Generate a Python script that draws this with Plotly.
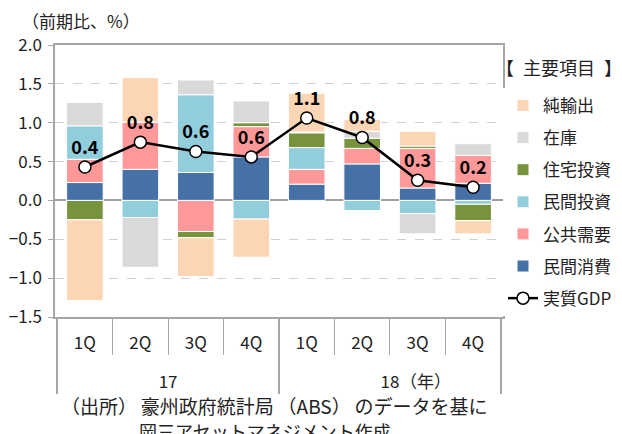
import plotly.graph_objects as go

years = ["17", "17", "17", "17", "18", "18", "18", "18"]
quarters = ["1Q", "2Q", "3Q", "4Q", "1Q", "2Q", "3Q", "4Q"]

consumption = [0.23, 0.40, 0.36, 0.56, 0.21, 0.47, 0.16, 0.22]   # 民間消費
public = [0.30, 0.61, -0.40, 0.39, 0.19, 0.20, 0.51, 0.36]       # 公共需要
private_inv = [0.43, -0.22, 1.00, -0.24, 0.28, -0.13, -0.17, -0.05]  # 民間投資
housing = [-0.25, 0.0, -0.08, 0.05, 0.19, 0.13, 0.03, -0.21]     # 住宅投資
inventory = [0.30, -0.64, 0.19, 0.28, 0.01, 0.09, -0.26, 0.15]   # 在庫
net_exports = [-1.04, 0.57, -0.50, -0.49, 0.50, 0.15, 0.19, -0.17]  # 純輸出
gdp = [0.43, 0.75, 0.63, 0.56, 1.06, 0.81, 0.26, 0.17]           # 実質GDP

FONT = "Noto Sans CJK JP"
# extra empty line under each quarter label pushes the year row further down
x = [years, [q + "<br> " for q in quarters]]

series = [
    ("民間消費", consumption, "#4571A7", 6),
    ("公共需要", public, "#FF9999", 5),
    ("民間投資", private_inv, "#92CDDC", 4),
    ("住宅投資", housing, "#77933C", 3),
    ("在庫", inventory, "#D9D9D9", 2),
    ("純輸出", net_exports, "#FCD5B5", 1),
]

fig = go.Figure()
for name, vals, color, rank in series:
    fig.add_trace(go.Bar(
        x=x, y=vals, name=name, marker_color=color,
        marker_line=dict(color="white", width=1),
        legendrank=rank, legendgroup=name,
        hoverinfo="skip",
    ))

fig.add_trace(go.Scatter(
    x=x, y=gdp, name="実質GDP", mode="lines+markers+text",
    line=dict(color="black", width=2.5),
    marker=dict(symbol="circle", size=12, color="white", line=dict(color="black", width=1.5)),
    texttemplate="<b>%{y:.1f}</b>", textposition="top center",
    textfont=dict(size=18, color="black", family=FONT),
    legendrank=7, legendgroup="gdp",
))

fig.update_layout(
    width=614, height=426,
    margin=dict(l=47, r=119, t=37, b=117, autoexpand=False),
    barmode="relative", bargap=0.34,
    paper_bgcolor="white", plot_bgcolor="white",
    font=dict(family=FONT, size=17, color="#222222"),
    showlegend=True,
    legend=dict(
        x=1.0, y=0.842, xanchor="left", yanchor="top",
        font=dict(size=17), tracegroupgap=7,
        itemwidth=30,
    ),
    annotations=[
        dict(text="【\u2002主要項目\u2002】", x=0.981, y=0.919, xref="paper", yref="paper",
             xanchor="left", yanchor="middle", showarrow=False, font=dict(size=18)),
        dict(text="（前期比、%）", x=-0.078, y=1.09, xref="paper", yref="paper",
             xanchor="left", yanchor="middle", showarrow=False, font=dict(size=17)),
        dict(text="（年）", x=0.766, y=-0.232, xref="paper", yref="paper",
             xanchor="left", yanchor="middle", showarrow=False, font=dict(size=17)),
        dict(text="（出所）\u2009豪州政府統計局\u2009（ABS）\u2009のデータを基に",
             x=0.489, y=-0.327, xref="paper", yref="paper",
             xanchor="center", yanchor="middle", showarrow=False, font=dict(size=19)),
        dict(text="岡三アセットマネジメント作成",
             x=0.469, y=-0.419, xref="paper", yref="paper",
             xanchor="center", yanchor="middle", showarrow=False, font=dict(size=18)),
    ],
)

fig.update_yaxes(
    range=[-1.5, 2.0], dtick=0.5, tickformat=".1f", automargin=False,
    showgrid=True, gridcolor="#D0D0D0", griddash="dash", gridwidth=1,
    zeroline=True, zerolinecolor="#A0A0A0", zerolinewidth=1.5,
    showline=True, linecolor="#A6A6A6", linewidth=1.5, mirror=True,
    ticks="outside", ticklen=5, tickcolor="#A6A6A6",
    ticklabelstandoff=3,
    tickfont=dict(size=17),
)
fig.update_xaxes(
    type="multicategory", automargin=False,
    showline=True, linecolor="#A6A6A6", linewidth=1.5, mirror=True,
    ticks="outside", ticklen=36, tickcolor="#A6A6A6", tickson="boundaries",
    ticklabelstandoff=10,
    showdividers=True, dividercolor="#A6A6A6", dividerwidth=1.5,
    tickfont=dict(size=17),
)

fig.write_html("out.html")
